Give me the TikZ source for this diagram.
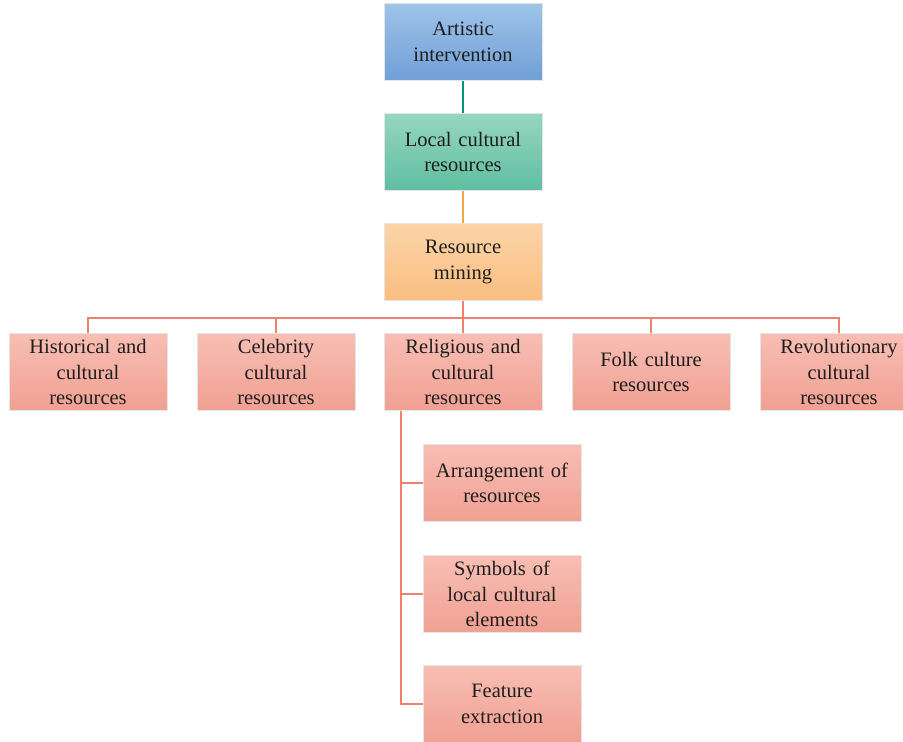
\documentclass[tikz,border=0pt]{standalone}
\usepackage{fontspec}
\setmainfont{Liberation Serif}
\definecolor{blueTop}{RGB}{158,196,232}
\definecolor{blueBot}{RGB}{112,158,214}
\definecolor{greenTop}{RGB}{150,214,192}
\definecolor{greenBot}{RGB}{96,190,160}
\definecolor{orangeTop}{RGB}{252,212,168}
\definecolor{orangeBot}{RGB}{250,190,128}
\definecolor{pinkTop}{RGB}{248,190,180}
\definecolor{pinkBot}{RGB}{240,160,146}
\definecolor{tealLine}{RGB}{0,150,120}
\definecolor{orangeLine}{RGB}{245,165,70}
\definecolor{pinkLine}{RGB}{238,128,108}
\definecolor{textGrey}{RGB}{30,30,30}
\tikzset{
  box/.style={minimum width=156pt, minimum height=77pt, inner sep=2pt,
    align=center, text width=154pt, text=textGrey,
    font=\fontsize{20.5}{25.5}\selectfont, draw=white!90!black, line width=0.4pt},
  bluebox/.style={box, top color=blueTop, bottom color=blueBot},
  greenbox/.style={box, top color=greenTop, bottom color=greenBot},
  orangebox/.style={box, top color=orangeTop, bottom color=orangeBot},
  pinkbox/.style={box, top color=pinkTop, bottom color=pinkBot},
  link/.style={line width=1.6pt}
}
\begin{document}
\begin{tikzpicture}[x=1pt, y=-1pt]

    \useasboundingbox (0,0) rectangle (903,742);

    % --- Coordinates ---
    \coordinate (art) at (463,42);
    \coordinate (loc) at (463,152);
    \coordinate (min) at (463,262);
    \coordinate (his) at (88,372);
    \coordinate (cel) at (276,372);
    \coordinate (rel) at (463,372);
    \coordinate (fol) at (651,372);
    \coordinate (rev) at (839,372);
    \coordinate (arr) at (502,483);
    \coordinate (sym) at (502,594);
    \coordinate (fea) at (502,704);
    \coordinate (bus) at (463,318);
    \coordinate (trunk) at (401,411);

    % --- Connectors ---
    \draw[link, tealLine] (art) -- (loc);
    \draw[link, orangeLine] (loc) -- (min);
    \draw[link, pinkLine] (min) -- (bus);
    \draw[link, pinkLine] (his) |- (bus) -| (rev);
    \draw[link, pinkLine] (cel) -- (cel |- bus);
    \draw[link, pinkLine] (fol) -- (fol |- bus);
    \draw[link, pinkLine] (bus) -- (rel);
    \draw[link, pinkLine] (trunk) |- (fea);
    \draw[link, pinkLine] (trunk |- arr) -- (arr);
    \draw[link, pinkLine] (trunk |- sym) -- (sym);

    % --- Main chain ---
    \node[bluebox] (artN) at (art) {Artistic\\intervention};
    \node[greenbox] (locN) at (loc) {Local cultural\\resources};
    \node[orangebox] (minN) at (min) {Resource\\mining};

    % --- Resource types ---
    \node[pinkbox] (hisN) at (his) {Historical and\\cultural\\resources};
    \node[pinkbox] (celN) at (cel) {Celebrity\\cultural\\resources};
    \node[pinkbox] (relN) at (rel) {Religious and\\cultural\\resources};
    \node[pinkbox] (folN) at (fol) {Folk culture\\resources};
    \node[pinkbox] (revN) at (rev) {Revolutionary\\cultural\\resources};

    % --- Religious branch ---
    \node[pinkbox] (arrN) at (arr) {Arrangement of\\resources};
    \node[pinkbox] (symN) at (sym) {Symbols of\\local cultural\\elements};
    \node[pinkbox] (feaN) at (fea) {Feature\\extraction};

\end{tikzpicture}
\end{document}
